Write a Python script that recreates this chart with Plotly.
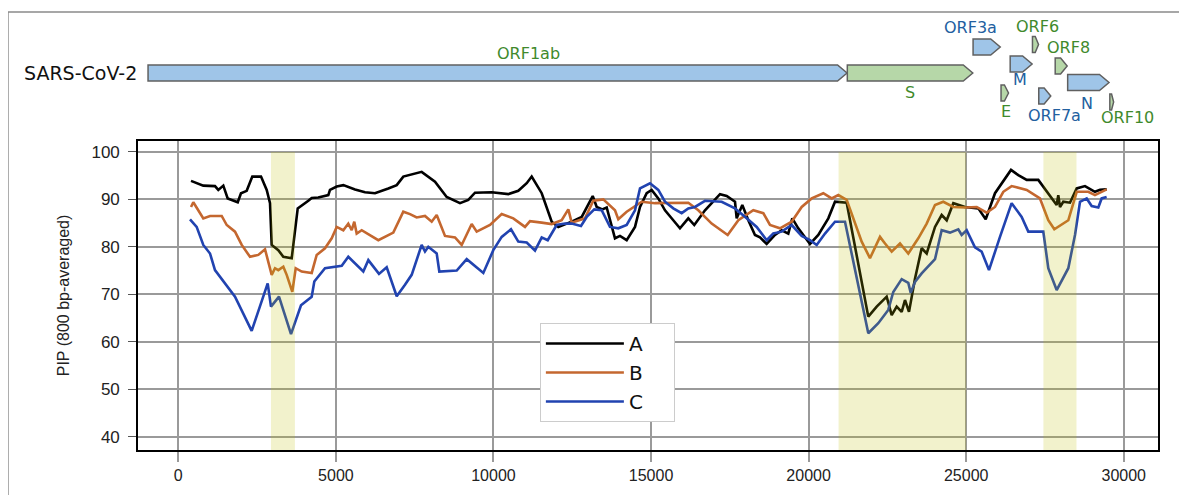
import plotly.graph_objects as go

# ---------------- data ----------------
A_pos = [403, 793, 1164, 1269, 1428, 1567, 1885, 1989, 2170, 2348, 2624, 2805, 2910, 2963, 3173, 3332, 3598, 3789,
         4125, 4233, 4442, 4760, 4813, 5026, 5236, 5607, 5924, 6241, 6663, 6930, 7139, 7511, 7722, 8145, 8516, 8938,
         9202, 9414, 9944, 10470, 10788, 11055, 11213, 11531, 11848, 12057, 12482, 12800, 12958, 13149, 13276, 13453,
         13593, 13856, 14015, 14227, 14491, 14650, 14862, 15021, 15230, 15443, 15706, 15918, 16182, 16372, 16712,
         17188, 17400, 17664, 17717, 17896, 18086, 18298, 18457, 18669, 18933, 19145, 19355, 19482, 19672, 20044,
         20307, 20625, 20837, 21208, 21893, 22160, 22477, 22636, 22795, 22953, 23058, 23185, 23375, 23587, 23746,
         24010, 24222, 24381, 24591, 24962, 25384, 25619, 25914, 26126, 26422, 26653, 26920, 27288, 27713, 27871,
         27922, 27976, 28081, 28293, 28506, 28769, 29086, 29245, 29457]
A_pip = [93.9, 92.9, 92.8, 92.0, 92.9, 90.2, 89.4, 91.3, 91.8, 94.8, 94.8, 92.0, 89.2, 80.4, 79.3, 77.9, 77.6, 88.1,
         89.7, 90.3, 90.4, 90.9, 92.0, 92.7, 93.0, 92.1, 91.5, 91.3, 92.3, 93.0, 94.8, 95.5, 95.8, 93.7, 90.5, 89.2,
         89.9, 91.4, 91.5, 91.1, 91.8, 93.4, 94.8, 91.3, 85.3, 84.2, 85.3, 86.3, 88.4, 90.7, 88.4, 87.9,
         88.3, 81.8, 82.3, 81.4, 84.2, 88.4, 91.3, 92.0, 90.2, 87.7, 85.6, 83.9, 86.0, 84.6, 87.7,
         91.1, 90.7, 89.5, 86.0, 88.8, 85.6, 82.5, 82.0, 80.6, 82.5, 83.5, 82.8, 86.0, 83.9, 80.6,
         82.5, 86.0, 89.5, 89.3, 65.3, 67.4, 69.5, 65.6, 67.4, 66.3, 68.8, 66.3, 73.3, 79.7, 78.6,
         84.2, 86.7, 85.6, 89.2, 88.4, 88.1, 85.8, 91.3, 93.4, 96.2, 95.1, 94.1, 94.1, 90.2, 88.8,
         90.9, 88.4, 89.5, 89.3, 92.3, 92.8, 91.6, 92.0, 92.1]

B_pos = [403, 476, 793, 1006, 1377, 1536, 1799, 2012, 2275, 2538, 2751, 2963, 3068, 3173, 3332, 3439, 3617, 3725,
         3915, 4233, 4391, 4655, 4867, 5026, 5236, 5394, 5502, 5584, 5660, 5819, 6346, 6822, 7139, 7352, 7564, 7828,
         8040, 8199, 8462, 8780, 8992, 9309, 9468, 9890, 10261, 10629, 11001, 11159, 11531, 11848, 12165, 12375,
         12482, 12904, 13168, 13485, 13856, 13961, 14227, 14703, 15126, 16182, 16500, 16924, 17432, 17770, 18245,
         18562, 18774, 19092, 19463, 19780, 20097, 20466, 20732, 20942, 21208, 21472, 21684, 21947, 22265, 22424,
         22636, 22900, 23163, 23480, 23746, 24010, 24273, 24591, 24962, 25333, 25650, 25914, 26177, 26442, 26920,
         27341, 27605, 27796, 28240, 28506, 28874, 29086, 29457]
B_pip = [88.4, 89.4, 86.0, 86.5, 86.5, 84.6, 83.2, 80.4, 77.9, 78.3, 79.5, 74.1, 75.5, 75.1, 75.8, 74.1, 70.5, 75.5,
         74.8, 74.5, 78.3, 79.7, 81.8, 84.2, 83.5, 84.9, 83.5, 85.3, 82.8, 83.5, 81.4, 83.0, 87.4, 86.9, 86.2, 86.5,
         85.3, 86.7, 82.3, 82.0, 80.4, 84.8, 83.2, 84.6, 86.9, 86.0, 84.2, 85.4, 85.1, 84.8, 85.6, 87.9,
         85.1, 86.0, 89.7, 90.0, 87.7, 85.8, 87.4, 89.5, 89.2, 89.3, 87.7, 84.9, 82.5, 85.6, 87.7,
         87.1, 84.6, 83.9, 85.3, 88.4, 90.2, 91.3, 90.2, 90.9, 89.9, 84.9, 81.1, 77.6, 82.1, 80.7,
         79.0, 80.7, 78.6, 81.8, 84.9, 88.8, 89.5, 88.4, 88.3, 88.4, 87.2, 88.4, 91.6, 92.8, 92.0,
         90.2, 85.6, 83.7, 85.6, 91.6, 91.6, 90.9, 92.1]

C_pos = [371, 582, 793, 1006, 1164, 1482, 1799, 2328, 2836, 2941, 3195, 3576, 3893, 4233, 4315, 4655, 5185, 5394,
         5870, 6029, 6368, 6612, 6930, 7193, 7405, 7722, 7828, 7933, 8199, 8282, 8834, 9151, 9678, 9995, 10261,
         10556, 10788, 11055, 11318, 11531, 11721, 12006, 12270, 12482, 12777, 12958, 13199, 13434, 13697, 13961,
         14227, 14491, 14650, 14967, 15230, 15443, 15706, 15972, 16182, 16394, 16712, 17241, 17664, 18035, 18352,
         18669, 18879, 19145, 19463, 19780, 20044, 20256, 20520, 20837, 21154, 21893, 22210, 22527, 22686, 22953,
         23163, 23240, 23375, 23587, 23797, 24010, 24222, 24486, 24749, 24856, 25015, 25278, 25490, 25723, 26072,
         26442, 26760, 26971, 27447, 27605, 27871, 28081, 28240, 28452, 28611, 28823, 28981, 29192, 29298, 29457]
C_pip = [85.8, 84.2, 80.4, 78.6, 75.1, 72.3, 69.5, 62.3, 72.3, 67.4, 69.5, 61.6, 67.7, 69.5, 72.7, 75.5, 76.0, 77.9,
         74.8, 77.2, 74.3, 75.7, 69.6, 72.0, 74.1, 80.4, 79.0, 80.0, 78.6, 74.8, 75.0, 77.4, 74.5, 79.3, 82.1,
         83.7, 81.1, 80.9, 79.2, 82.0, 81.4, 84.6, 84.9, 84.9, 84.4, 86.3, 87.9, 87.7, 84.2, 83.9,
         84.6, 87.7, 92.3, 93.4, 92.0, 89.5, 88.1, 87.1, 88.1, 88.4, 89.7, 89.5, 88.1, 86.0, 84.2,
         81.4, 82.8, 83.2, 84.6, 82.3, 81.4, 80.4, 82.8, 85.3, 85.3, 61.8, 63.9, 66.7, 70.5, 73.2,
         72.4, 70.3, 72.6, 74.4, 76.0, 77.4, 83.5, 83.0, 83.7, 82.5, 83.5, 79.9, 79.0, 75.1, 82.1,
         89.2, 86.3, 83.2, 83.2, 75.5, 70.9, 73.4, 75.5, 82.5, 89.5, 90.2, 88.6, 88.3, 90.2, 90.5]

series_names = ["A", "B", "C"]
x_ticks = [0, 5000, 10000, 15000, 20000, 25000, 30000]
y_ticks = [40, 50, 60, 70, 80, 90, 100]
highlight_start = [2940, 20950, 27450]
highlight_end = [3700, 25000, 28500]

genes = ["ORF1ab", "S", "ORF3a", "E", "M", "ORF6", "ORF7a", "ORF8", "N", "ORF10"]
gene_start = [266, 21563, 25393, 26245, 26523, 27202, 27394, 27894, 28274, 29558]
gene_end = [21555, 25384, 26220, 26472, 27191, 27387, 27759, 28259, 29533, 29674]

# ---------------- styles / layout ----------------
line_colors = ["#000000", "#c4672f", "#2143b0"]
gene_fill = {"blue": "#9fc5e8", "green": "#b6d7a8"}
gene_text = {"blue": "#22609f", "green": "#3f8a2c"}
gene_kind = ["blue", "green", "blue", "green", "blue", "green", "blue", "green", "blue", "green"]
label_kind = ["green", "green", "blue", "green", "blue", "green", "blue", "green", "blue", "green"]
# vertical centre of each gene arrow in the diagram (diagram units = px from top of page)
gene_row = [73, 73, 47, 93, 64, 44.5, 96, 66, 82.5, 102]
gene_half_h = 8
head_len = 290
# label placement (x in genome coordinates, y in diagram units)
label_x = [11839, 23472, 25300, 26396, 26822, 27340, 27858, 28284, 28863, 30111]
label_y = [53, 92, 27, 111, 79, 26, 115, 47, 103, 117]

FONT = "Liberation Sans, Arial, sans-serif"
DFONT = "DejaVu Sans, sans-serif"
GRID = "#9a9a9a"
PAD = "\u00a0" * 4

fig = go.Figure()
for name, xs, ys, col in zip(series_names, [A_pos, B_pos, C_pos], [A_pip, B_pip, C_pip], line_colors):
    fig.add_trace(go.Scatter(x=xs, y=ys, mode="lines", name=name + PAD,
                             line=dict(color=col, width=2.6), xaxis="x", yaxis="y"))

# invisible trace so the diagram axes exist
fig.add_trace(go.Scatter(x=[0], y=[70], mode="markers", marker=dict(opacity=0),
                         showlegend=False, hoverinfo="skip", xaxis="x2", yaxis="y2"))

shapes = []
for s, e in zip(highlight_start, highlight_end):
    shapes.append(dict(type="rect", xref="x", yref="y", x0=s, x1=e, y0=37.2, y1=100,
                       fillcolor="rgba(191,191,0,0.2)", line=dict(width=0), layer="above"))

annotations = []
for g, s, e, kind, lkind, yc, lx, ly in zip(genes, gene_start, gene_end, gene_kind, label_kind,
                                             gene_row, label_x, label_y):
    tip = min(head_len, 0.55 * (e - s))
    xb = e - tip
    path = (f"M {s},{yc - gene_half_h} L {xb},{yc - gene_half_h} L {e},{yc} "
            f"L {xb},{yc + gene_half_h} L {s},{yc + gene_half_h} Z")
    shapes.append(dict(type="path", xref="x2", yref="y2", path=path,
                       fillcolor=gene_fill[kind], line=dict(color="#606060", width=1.5), layer="above"))
    annotations.append(dict(x=lx, y=ly, xref="x2", yref="y2", text=g, showarrow=False,
                            font=dict(family=DFONT, size=16, color=gene_text[lkind]),
                            xanchor="center", yanchor="middle"))

annotations.append(dict(x=-10, y=73, xref="x2", yref="y2", text="SARS-CoV-2", showarrow=False,
                        font=dict(family=DFONT, size=19, color="#111"), xanchor="right", yanchor="middle"))

# outer frame (partial border of the original figure)
shapes.append(dict(type="line", xref="paper", yref="paper", x0=-0.1275, x1=-0.1275, y0=0.9955, y1=-0.2,
                   line=dict(color="#8a8a8a", width=1.5)))
shapes.append(dict(type="line", xref="paper", yref="paper", x0=-0.1275, x1=1.1, y0=0.9955, y1=0.9955,
                   line=dict(color="#8a8a8a", width=1.5)))

fig.update_layout(
    width=1179, height=487,
    margin=dict(l=130, r=29, t=2, b=45, autoexpand=False),
    plot_bgcolor="white", paper_bgcolor="white",
    shapes=shapes, annotations=annotations,
    xaxis=dict(domain=[0, 1], range=[-1279, 31086], tickvals=x_ticks, ticktext=[str(v) for v in x_ticks],
               showgrid=True, gridcolor=GRID, gridwidth=1.6, ticks="outside", ticklen=10,
               tickcolor=GRID, tickwidth=1.6, showline=True, linecolor="black", linewidth=1.6,
               mirror=True, zeroline=False, tickfont=dict(family=FONT, size=16, color="#222"),
               ticklabelstandoff=0, automargin=False, anchor="y"),
    yaxis=dict(domain=[0, 0.7023], range=[37.2, 102.3], tickvals=y_ticks,
               showgrid=True, gridcolor=GRID, gridwidth=1.6, ticks="outside", ticklen=8,
               tickcolor="#555", tickwidth=1.3, showline=True, linecolor="black", linewidth=1.6,
               mirror=True, zeroline=False, tickfont=dict(family=FONT, size=17, color="#222"),
               ticklabelstandoff=5, automargin=False,
               title=dict(text="PIP (800 bp-averaged)", font=dict(family=FONT, size=16, color="#222"),
                          standoff=18),
               anchor="x"),
    xaxis2=dict(domain=[0, 1], range=[-40, 31025], visible=False, anchor="y2", fixedrange=True),
    yaxis2=dict(domain=[0.71, 1.0], range=[137.6, 10], visible=False, anchor="x2", fixedrange=True),
    legend=dict(x=0.394, y=0.2886, xanchor="left", yanchor="top", bgcolor="white",
                bordercolor="#cccccc", borderwidth=1, font=dict(family=DFONT, size=20, color="#111"),
                itemwidth=78, tracegroupgap=0),
    showlegend=True,
)

fig.write_html("out.html")
